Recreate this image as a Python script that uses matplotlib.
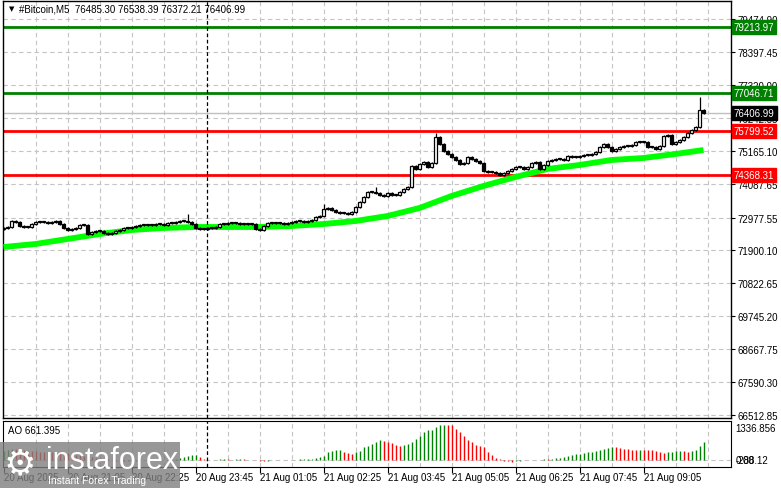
import matplotlib
matplotlib.use("Agg")
import matplotlib.pyplot as plt
from matplotlib.patches import Rectangle

plt.rcParams["font.family"] = ["Liberation Sans", "DejaVu Sans"]

W, H = 781, 489

# M5 closes, bar 0 = 20 Aug 19:45
closes = [
    72635, 72667, 72864, 72831, 72700, 72667, 72667, 72765, 72831, 72831,
    72831, 72798, 72831, 72864, 72765, 72635, 72569, 72602, 72635, 72733,
    72733, 72438, 72504, 72537, 72537, 72471, 72438, 72471, 72537, 72569,
    72635, 72635, 72667, 72700, 72733, 72733, 72733, 72733, 72765, 72765,
    72733, 72798, 72798, 72831, 72864, 72864, 72831, 72765, 72635, 72602,
    72602, 72635, 72635, 72667, 72765, 72765, 72798, 72798, 72798, 72765,
    72765, 72765, 72765, 72602, 72569, 72700, 72798, 72798, 72798, 72798,
    72765, 72798, 72831, 72864, 72864, 72831, 72864, 72896, 72994, 73027,
    73256, 73289, 73224, 73158, 73125, 73125, 73093, 73158, 73322, 73485,
    73649, 73813, 73813, 73780, 73714, 73682, 73780, 73714, 73714, 73813,
    73911, 73976, 74664, 74566, 74729, 74795, 74631, 74762, 75613, 75384,
    75155, 75057, 74958, 74860, 74729, 74762, 74958, 74893, 74827, 74762,
    74500, 74467, 74467, 74435, 74369, 74435, 74500, 74566, 74631, 74631,
    74566, 74631, 74762, 74795, 74566, 74697, 74827, 74860, 74893, 74893,
    74860, 74991, 74958, 74958, 74991, 75024, 75024, 75057, 75122, 75286,
    75384, 75286, 75155, 75220, 75286, 75318, 75318, 75351, 75449, 75449,
    75449, 75286, 75286, 75220, 75318, 75645, 75678, 75384, 75449, 75515,
    75613, 75744, 75842, 75940, 76485.30, 76406.99,
]
first_open = 72600
high_marks = {46: 73093, 80: 73420, 93: 73976, 108: 75744, 174: 76922, 175: 76538.39}
low_marks = {175: 76372.21}

ma_bars = [0, 8, 16, 24, 32, 40, 48, 56, 64, 72, 80, 88, 96, 104, 112, 120,
           128, 136, 144, 152, 160, 168, 175]
ma_values = [72012, 72111, 72275, 72438, 72569, 72635, 72667, 72667, 72667,
             72700, 72765, 72864, 73027, 73289, 73682, 74010, 74304, 74566,
             74697, 74860, 74926, 75057, 75187]

ao_values = [
    330, 360, 400, 385, 370, 350, 335, 320, 310, 300,
    290, 285, 280, 275, 265, 250, 235, 215, 190, 170,
    150, 125, 100, 80, 60, 40, 20, -5, -25, -40,
    -50, -45, -35, -25, -15, -5, 5, 10, 8, 12,
    15, 20, 25, 35, 55, 110, 145, 180, 190, 120,
    35, -15, 10, 15, 20, 25, 20, 15, 20, 25,
    18, 12, 10, 5, -30, -40, -25, -10, 5, 10,
    8, 12, 10, 15, 18, 20, 25, 35, 60, 100,
    155, 278, 336, 361, 365, 300, 242, 217, 278, 336,
    458, 523, 578, 639, 704, 697, 650, 625, 552, 516,
    552, 578, 639, 758, 877, 1011, 1083, 1094, 1191, 1264,
    1271, 1264, 1256, 1119, 1011, 866, 733, 661, 542, 505,
    469, 300, 181, 72, 18, -36, -54, -61, -43, -29,
    -18, 11, 7, 14, 11, 22, 18, 36, 54, 83,
    119, 155, 181, 199, 217, 253, 289, 296, 325, 343,
    397, 444, 480, 458, 422, 397, 379, 372, 368, 375,
    365, 357, 354, 318, 289, 264, 278, 289, 314, 318,
    307, 300, 325, 372, 516, 661.395,
]

price_ticks = [79474.90, 78397.45, 77320.00, 76242.55, 75165.10, 74087.65,
               72977.55, 71900.10, 70822.65, 69745.20, 68667.75, 67590.30, 66512.85]
levels = [79213.97, 77046.71, 75799.52, 74368.31]
level_colors = ["#008000", "#008000", "#ff0000", "#ff0000"]
last_price = 76406.99

time_bars = [0, 16, 32, 48, 64, 80, 96, 112, 128, 144, 160]
time_labels = ["20 Aug 2025", "20 Aug 21:05", "20 Aug 22:25", "20 Aug 23:45",
               "21 Aug 01:05", "21 Aug 02:25", "21 Aug 03:45", "21 Aug 05:05",
               "21 Aug 06:25", "21 Aug 07:45", "21 Aug 09:05"]
marker_bar = 50.95


def box(x0, y0, x1, y1):
    return [x0 / W, 1 - y1 / H, (x1 - x0) / W, (y1 - y0) / H]


fig = plt.figure(figsize=(W / 100, H / 100), dpi=100)
fig.patch.set_facecolor("white")

ax = fig.add_axes(box(3, 2, 731, 419))
ax2 = fig.add_axes(box(3, 422, 731, 468))

xlim = (-0.125, 181.875)
grid_kw = dict(color="#c4c4c4", lw=0.8, ls=(0, (4, 3)), zorder=0)

# main pane
ax.set_xlim(*xlim)
ax.set_ylim(66415.6, 80064)
for b in range(8, 182, 8):
    ax.axvline(b, **grid_kw)
for p in price_ticks:
    ax.axhline(p, **grid_kw)

ax.axhline(last_price, color="#c0c0c0", lw=1, zorder=1)
for lv, col in zip(levels, level_colors):
    ax.axhline(lv, color=col, lw=2, zorder=2)

ax.plot(ma_bars, ma_values, color="#00ff00", lw=4.2, solid_capstyle="butt", zorder=3)

opens = [first_open] + closes[:-1]
for i, (o, c) in enumerate(zip(opens, closes)):
    hi = high_marks.get(i, max(o, c) + 30)
    lo = low_marks.get(i, min(o, c) - 30)
    ax.vlines(i, lo, hi, color="black", lw=0.9, zorder=4)
    fc = "white" if c >= o else "black"
    ax.add_patch(Rectangle((i - 0.38, min(o, c)), 0.76, max(abs(c - o), 25),
                           facecolor=fc, edgecolor="black", lw=0.9, zorder=5))

ax.axvline(marker_bar, color="black", lw=0.9, ls=(0, (3, 2)), zorder=6)

ax.yaxis.tick_right()
ax.set_yticks(price_ticks)
ax.set_yticklabels([f"{p:.2f}" for p in price_ticks])
ax.tick_params(axis="y", length=3, pad=2, labelsize=7, direction="out")
ax.set_xticks([])
for s in ax.spines.values():
    s.set_linewidth(1)

for lv, col in zip(levels, level_colors):
    ax.text(1.004, lv, f"{lv:.2f}", transform=ax.get_yaxis_transform(), va="center",
            ha="left", fontsize=7, color="white", zorder=10, clip_on=False,
            bbox=dict(boxstyle="square,pad=0.2", fc=col, ec=col))
ax.text(1.004, last_price, f"{last_price:.2f}", transform=ax.get_yaxis_transform(),
        va="center", ha="left", fontsize=7, color="white", zorder=10, clip_on=False,
        bbox=dict(boxstyle="square,pad=0.2", fc="black", ec="black"))

ax.text(0.008, 0.983, "\u25bc", transform=ax.transAxes, fontsize=5, va="center", ha="left",
        family="DejaVu Sans")
ax.text(0.022, 0.983, "#Bitcoin,M5  76485.30 76538.39 76372.21 76406.99",
        transform=ax.transAxes, fontsize=7, va="center", ha="left")

# AO pane
ax2.set_xlim(*xlim)
ax2.set_ylim(-253, 1408)
for b in range(8, 182, 8):
    ax2.axvline(b, **grid_kw)
ax2.axhline(0, **grid_kw)
prev = None
for i, v in enumerate(ao_values):
    col = "#008000" if prev is None or v >= prev else "#ff0000"
    ax2.vlines(i, 0, v, color=col, lw=1, zorder=3)
    prev = v
ax2.axvline(marker_bar, color="black", lw=0.9, ls=(0, (3, 2)), zorder=6)
ax2.set_yticks([])
ax2.set_xticks(time_bars)
ax2.set_xticklabels([])
ax2.tick_params(axis="x", length=4, direction="out")
ax2.text(0.007, 0.80, "AO 661.395", transform=ax2.transAxes, fontsize=7, va="center")
ax2.text(1.006, 0.85, "1336.856", transform=ax2.transAxes, fontsize=7, va="center")
ax2.text(1.006, 0.15, "0.00", transform=ax2.transAxes, fontsize=7, va="center")
ax2.text(1.006, 0.15, "-288.12", transform=ax2.transAxes, fontsize=7, va="center")

for b, lab in zip(time_bars, time_labels):
    fig.text((3 + 1.5 + 4 * b) / W, 1 - 478 / H, lab, fontsize=7, va="center", ha="left")

# watermark
fig.patches.append(Rectangle((0, 0), 180 / W, 46 / H, transform=fig.transFigure,
                             facecolor="#7f7f7f", alpha=0.8, edgecolor="none", zorder=20))
fig.text(4 / W, 1 - 464 / H, "\u2699", fontsize=26, color="white", va="center", zorder=21,
         family="DejaVu Sans")
fig.text(46 / W, 1 - 461 / H, "instaforex", fontsize=22, color="white", va="center", zorder=21)
fig.text(48 / W, 1 - 481 / H, "Instant Forex Trading", fontsize=7.5, color="white",
         va="center", zorder=21)

fig.savefig("out.png", dpi=100)
